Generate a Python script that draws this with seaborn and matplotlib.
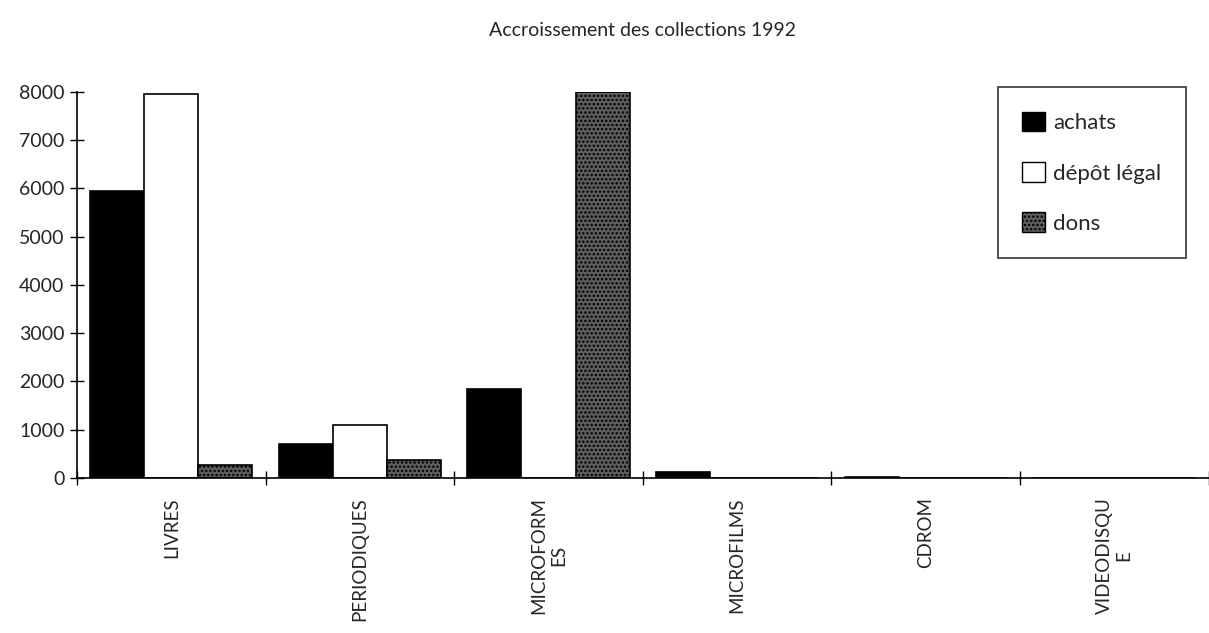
import pandas as pd
import seaborn as sns
import matplotlib.pyplot as plt
from matplotlib.patches import Patch

# values
categories = ["LIVRES", "PERIODIQUES", "MICROFORMES", "MICROFILMS", "CDROM", "VIDEODISQUE"]
tick_labels = ["LIVRES", "PERIODIQUES", "MICROFORM\nES", "MICROFILMS", "CDROM", "VIDEODISQU\nE"]
series = ["achats", "dépôt légal", "dons"]
achats = [5950, 700, 1840, 120, 10, 5]
depot_legal = [7950, 1090, 0, 0, 0, 0]
dons = [260, 370, 8000, 0, 0, 0]

df = pd.DataFrame({
    "categorie": categories * 3,
    "serie": [series[0]] * 6 + [series[1]] * 6 + [series[2]] * 6,
    "valeur": achats + depot_legal + dons,
})

sns.set_theme(style="white")
plt.rcParams["font.family"] = ["Lato", "DejaVu Sans"]
plt.rcParams["hatch.linewidth"] = 1.2

colors = {"achats": "black", "dépôt légal": "white", "dons": "#5f5f5f"}

fig = plt.figure(figsize=(12.09, 6.33), dpi=100)
ax = fig.add_axes([0.0637, 0.245, 0.936, 0.61])

sns.barplot(data=df, x="categorie", y="valeur", hue="serie", order=categories,
            hue_order=series, palette=colors, width=0.86, edgecolor="black",
            linewidth=1.2, saturation=1, legend=False, ax=ax)

# stipple the "dons" bars
for bar in ax.containers[2]:
    bar.set_hatch("....")

ax.set_xlim(-0.5, 5.5)
ax.set_ylim(0, 8000)
ax.set_yticks(range(0, 8001, 1000))
ax.set_xticks(range(6))
ax.set_xticklabels(tick_labels, rotation=90, fontsize=13.5)
ax.set_xticks([i + 0.5 for i in range(-1, 6)], minor=True)
ax.tick_params(axis="x", which="major", length=0, pad=14, bottom=False)
ax.tick_params(axis="x", which="minor", direction="inout", length=10, width=1,
               color="black", bottom=True)
ax.tick_params(axis="y", direction="inout", length=10, width=1, color="black",
               labelsize=14, left=True, pad=4)
ax.set_xlabel("")
ax.set_ylabel("")

for s in ["top", "right"]:
    ax.spines[s].set_visible(False)
for s in ["left", "bottom"]:
    ax.spines[s].set_color("black")
    ax.spines[s].set_linewidth(1.2)

ax.set_title("Accroissement des collections 1992", fontsize=14, pad=40)

handles = [Patch(facecolor=colors[s], edgecolor="black", hatch="...." if s == "dons" else None)
           for s in series]
leg = ax.legend(handles, series, loc="upper right", bbox_to_anchor=(0.98, 1.012),
                fontsize=16, frameon=True, fancybox=False, handlelength=1.0,
                handleheight=1.0, labelspacing=1.3, borderpad=1.1, handletextpad=0.4,
                borderaxespad=0)
leg.get_frame().set_edgecolor("black")
leg.get_frame().set_linewidth(1.2)

fig.savefig("out.png", dpi=100)
